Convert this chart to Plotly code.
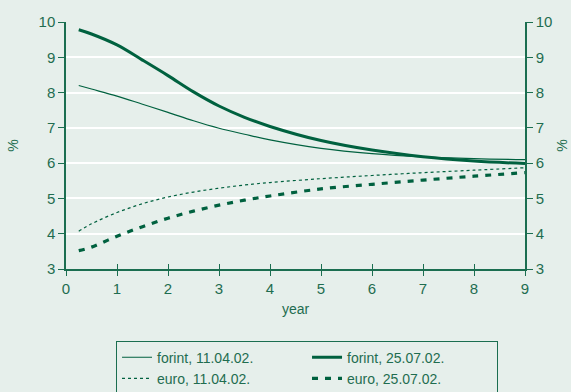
import plotly.graph_objects as go

# maturity in years
years = [0.25, 0.5, 1, 1.5, 2, 2.5, 3, 3.5, 4, 5, 6, 7, 8, 9]

forint_0411 = [8.20, 8.10, 7.90, 7.67, 7.44, 7.20, 6.99, 6.82, 6.66, 6.42, 6.27, 6.18, 6.13, 6.10]
forint_2507 = [9.78, 9.66, 9.35, 8.92, 8.48, 8.02, 7.62, 7.30, 7.04, 6.64, 6.37, 6.18, 6.06, 5.99]
euro_0411 = [4.07, 4.28, 4.60, 4.85, 5.04, 5.18, 5.29, 5.38, 5.45, 5.56, 5.65, 5.73, 5.80, 5.87]
euro_2507 = [3.52, 3.62, 3.93, 4.20, 4.44, 4.64, 4.81, 4.95, 5.07, 5.27, 5.40, 5.52, 5.63, 5.73]

x_ticks = list(range(0, 10))
y_ticks = list(range(3, 11))

bg = "#e6efeb"
green = "#00613f"
axis_col = "#1b6e50"
txt = "#1f6d50"
font = "Liberation Sans, Arial, sans-serif"

fig = go.Figure()

fig.add_trace(go.Scatter(x=years, y=forint_0411, mode="lines", name="forint, 11.04.02.",
                         line=dict(color=green, width=1.2), line_shape="spline"))
fig.add_trace(go.Scatter(x=years, y=forint_2507, mode="lines", name="forint, 25.07.02.",
                         line=dict(color=green, width=3), line_shape="spline"))
fig.add_trace(go.Scatter(x=years, y=euro_0411, mode="lines", name="euro, 11.04.02.",
                         line=dict(color=green, width=1.2, dash="dot"), line_shape="spline"))
fig.add_trace(go.Scatter(x=years, y=euro_2507, mode="lines", name="euro, 25.07.02.",
                         line=dict(color=green, width=3.2, dash="6px,7px"), line_shape="spline"))
# invisible helper so the right-hand / inner-tick axes get drawn
fig.add_trace(go.Scatter(x=[0], y=[3], xaxis="x2", yaxis="y2", mode="markers",
                         marker=dict(opacity=0), showlegend=False, hoverinfo="skip"))

fig.update_layout(
    width=571, height=392,
    margin=dict(l=66, r=46, t=22, b=123, autoexpand=False),
    paper_bgcolor=bg, plot_bgcolor=bg,
    font=dict(family=font, color=txt, size=15),
    showlegend=True,
    legend=dict(
        orientation="h", x=0.109, xanchor="left", y=-0.29, yanchor="top",
        bordercolor=axis_col, borderwidth=1, bgcolor=bg,
        font=dict(size=14, color=txt), entrywidth=145, tracegroupgap=0,
    ),
    xaxis=dict(
        range=[0, 9], tickvals=x_ticks, showgrid=False, zeroline=False, automargin=False,
        showline=True, linecolor=axis_col, linewidth=1.5,
        ticks="outside", ticklen=5, tickcolor=axis_col, tickwidth=1.2,
        title=dict(text="year", font=dict(size=14), standoff=8),
    ),
    xaxis2=dict(
        range=[0, 9], tickvals=x_ticks, overlaying="x", side="bottom", automargin=False,
        showgrid=False, zeroline=False, showline=False, showticklabels=False,
        ticks="inside", ticklen=5, tickcolor=axis_col, tickwidth=1.2,
    ),
    yaxis=dict(
        range=[3, 10], tickvals=y_ticks, showgrid=True, gridcolor="white", gridwidth=1.5,
        zeroline=False, showline=True, linecolor=axis_col, linewidth=1.5, automargin=False,
        ticks="outside", ticklen=6, tickcolor=axis_col, tickwidth=1.2,
        title=dict(text="%", font=dict(size=14), standoff=17),
    ),
    yaxis2=dict(
        range=[3, 10], tickvals=y_ticks, overlaying="y", side="right", automargin=False,
        showgrid=False, zeroline=False, showline=True, linecolor=axis_col, linewidth=1.5,
        ticks="outside", ticklen=6, tickcolor=axis_col, tickwidth=1.2,
        title=dict(text="%", font=dict(size=14), standoff=6),
    ),
)

fig.write_html("out.html", config={"displayModeBar": False},
               post_script="document.body.style.margin='0';")
